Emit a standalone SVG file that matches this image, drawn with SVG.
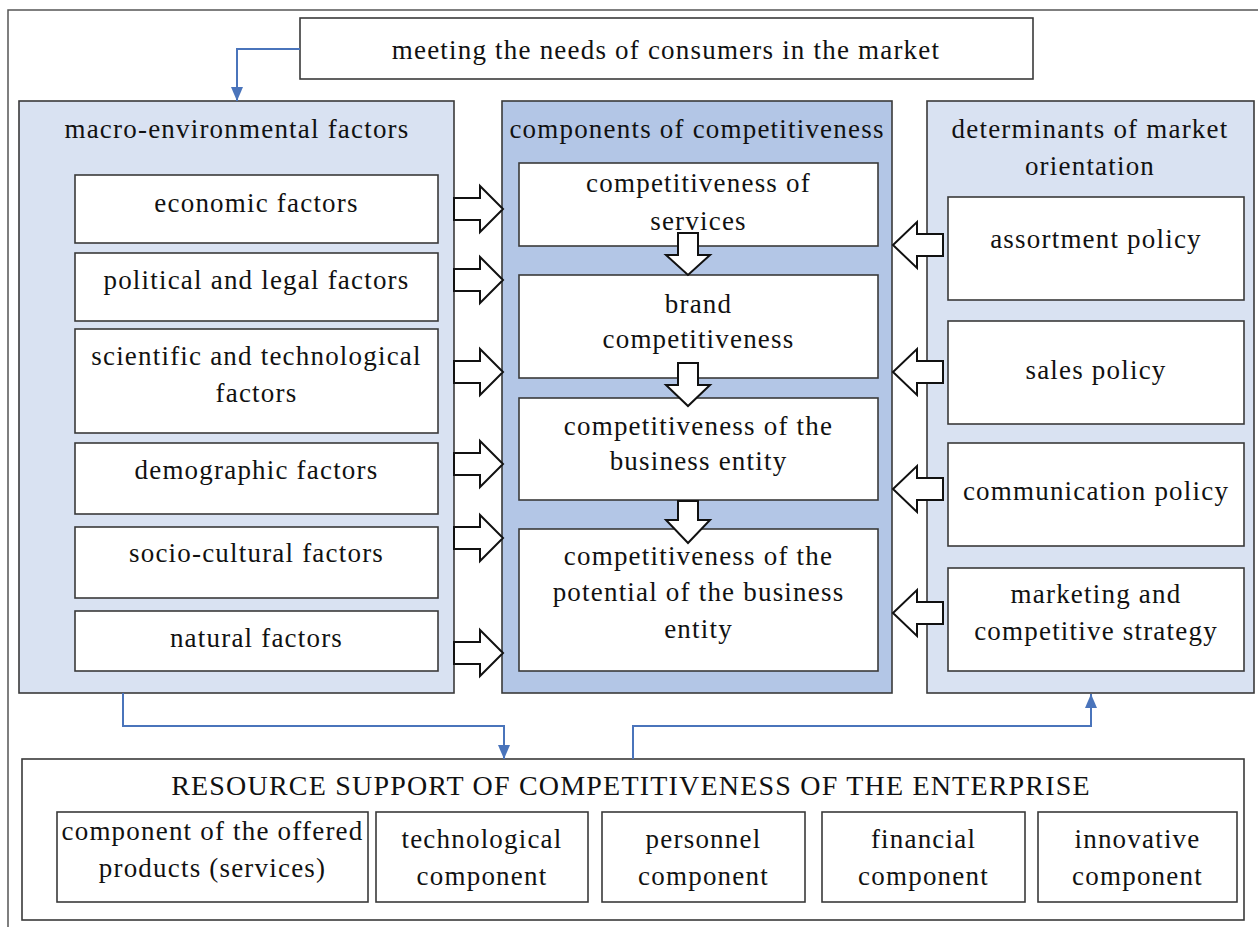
<svg xmlns="http://www.w3.org/2000/svg" width="1258" height="927" viewBox="0 0 1258 927">
<defs>
<style>
text{font-family:Liberation Serif,Tinos,Times New Roman,Noto Serif,DejaVu Serif,serif;font-size:27px;fill:#111;text-anchor:middle;letter-spacing:1.2px}
.frame{fill:none;stroke:#555;stroke-width:1.5}
.box{fill:#fff;stroke:#3a3a3a;stroke-width:1.6}
.light{fill:#d9e2f2;stroke:#3a3a3a;stroke-width:1.6}
.dark{fill:#b3c6e6;stroke:#3a3a3a;stroke-width:1.6}
.harrow{fill:#fff;stroke:#111;stroke-width:2;stroke-linejoin:miter}
.conn{fill:none;stroke:#4a74bb;stroke-width:2}
.big{font-size:28px}
</style>
<marker id="ah" viewBox="0 0 14 12" refX="14" refY="6" markerWidth="14" markerHeight="12" markerUnits="userSpaceOnUse" orient="auto">
<path d="M0,0 L14,6 L0,12 Z" fill="#4a74bb"/>
</marker>
</defs>
<rect width="1258" height="927" fill="#fff"/>
<path class="frame" d="M8,927 V10 H1258"/>

<g id="top">
<rect class="box" x="300" y="18" width="733" height="61"/>
<text x="666" y="59">meeting the needs of consumers in the market</text>
</g>

<g id="macro">
<rect class="light" x="19" y="101" width="435" height="592"/>
<text x="237" y="138">macro-environmental factors</text>
</g>
<g id="economic"><rect class="box" x="75" y="175" width="363" height="68"/><text x="256.5" y="212">economic factors</text></g>
<g id="political"><rect class="box" x="75" y="253" width="363" height="68"/><text x="256.5" y="289">political and legal factors</text></g>
<g id="scientific"><rect class="box" x="75" y="329" width="363" height="104"/><text x="256.5" y="365">scientific and technological</text><text x="256.5" y="402">factors</text></g>
<g id="demographic"><rect class="box" x="75" y="443" width="363" height="71"/><text x="256.5" y="479">demographic factors</text></g>
<g id="sociocultural"><rect class="box" x="75" y="527" width="363" height="71"/><text x="256.5" y="562">socio-cultural factors</text></g>
<g id="natural"><rect class="box" x="75" y="611" width="363" height="60"/><text x="256.5" y="647">natural factors</text></g>

<g id="components">
<rect class="dark" x="502" y="101" width="390" height="592"/>
<text x="697" y="138">components of competitiveness</text>
</g>
<g id="services"><rect class="box" x="519" y="163" width="359" height="83"/><text x="698.5" y="192">competitiveness of</text><text x="698.5" y="230">services</text></g>
<g id="brand"><rect class="box" x="519" y="275" width="359" height="103"/><text x="698.5" y="313">brand</text><text x="698.5" y="348">competitiveness</text></g>
<g id="entity"><rect class="box" x="519" y="398" width="359" height="102"/><text x="698.5" y="435">competitiveness of the</text><text x="698.5" y="470">business entity</text></g>
<g id="potential"><rect class="box" x="519" y="529" width="359" height="142"/><text x="698.5" y="565">competitiveness of the</text><text x="698.5" y="601">potential of the business</text><text x="698.5" y="638">entity</text></g>

<g id="determinants">
<rect class="light" x="927" y="101" width="327" height="592"/>
<text x="1090" y="138">determinants of market</text>
<text x="1090" y="175">orientation</text>
</g>
<g id="assortment"><rect class="box" x="948" y="197" width="296" height="103"/><text x="1096" y="248">assortment policy</text></g>
<g id="sales"><rect class="box" x="948" y="321" width="296" height="103"/><text x="1096" y="379">sales policy</text></g>
<g id="communication"><rect class="box" x="948" y="443" width="296" height="103"/><text x="1096" y="500">communication policy</text></g>
<g id="marketing"><rect class="box" x="948" y="568" width="296" height="103"/><text x="1096" y="603">marketing and</text><text x="1096" y="640">competitive strategy</text></g>

<g id="resource">
<rect class="box" x="22" y="759" width="1222" height="161"/>
<text class="big" x="631" y="795">RESOURCE SUPPORT OF COMPETITIVENESS OF THE ENTERPRISE</text>
</g>
<g id="r-products"><rect class="box" x="57" y="812" width="311" height="90"/><text x="212.5" y="840">component of the offered</text><text x="212.5" y="877">products (services)</text></g>
<g id="r-tech"><rect class="box" x="376" y="812" width="212" height="90"/><text x="482" y="848">technological</text><text x="482" y="885">component</text></g>
<g id="r-personnel"><rect class="box" x="602" y="812" width="203" height="90"/><text x="703.5" y="848">personnel</text><text x="703.5" y="885">component</text></g>
<g id="r-financial"><rect class="box" x="822" y="812" width="203" height="90"/><text x="923.5" y="848">financial</text><text x="923.5" y="885">component</text></g>
<g id="r-innovative"><rect class="box" x="1038" y="812" width="199" height="90"/><text x="1137.5" y="848">innovative</text><text x="1137.5" y="885">component</text></g>

<g id="connectors">
<path class="conn" d="M300,49 H237 V101" marker-end="url(#ah)"/>
<path class="conn" d="M123,693 V726 H504 V759" marker-end="url(#ah)"/>
<path class="conn" d="M633,759 V726 H1091 V694" marker-end="url(#ah)"/>
<g id="arrows-right">
<path class="harrow" d="M454,198 H480 V186 L503,209 L480,232 V220 H454 Z"/>
<path class="harrow" d="M454,269 H480 V257 L503,280 L480,303 V291 H454 Z"/>
<path class="harrow" d="M454,361 H480 V349 L503,372 L480,395 V383 H454 Z"/>
<path class="harrow" d="M454,453 H480 V441 L503,464 L480,487 V475 H454 Z"/>
<path class="harrow" d="M454,527 H480 V515 L503,538 L480,561 V549 H454 Z"/>
<path class="harrow" d="M454,642 H480 V630 L503,653 L480,676 V664 H454 Z"/>
</g>
<g id="arrows-down">
<path class="harrow" d="M678,233 H698 V255 H710 L688,275 L666,255 H678 Z"/>
<path class="harrow" d="M678,363 H698 V385 H710 L688,406 L666,385 H678 Z"/>
<path class="harrow" d="M678,501 H698 V520 H710 L688,543 L666,520 H678 Z"/>
</g>
<g id="arrows-left">
<path class="harrow" d="M943,234 H917 V222 L893,245 L917,268 V256 H943 Z"/>
<path class="harrow" d="M943,361 H917 V349 L893,372 L917,395 V383 H943 Z"/>
<path class="harrow" d="M943,478 H917 V466 L893,489 L917,512 V500 H943 Z"/>
<path class="harrow" d="M943,602 H917 V590 L893,613 L917,636 V624 H943 Z"/>
</g>
</g>
</svg>
